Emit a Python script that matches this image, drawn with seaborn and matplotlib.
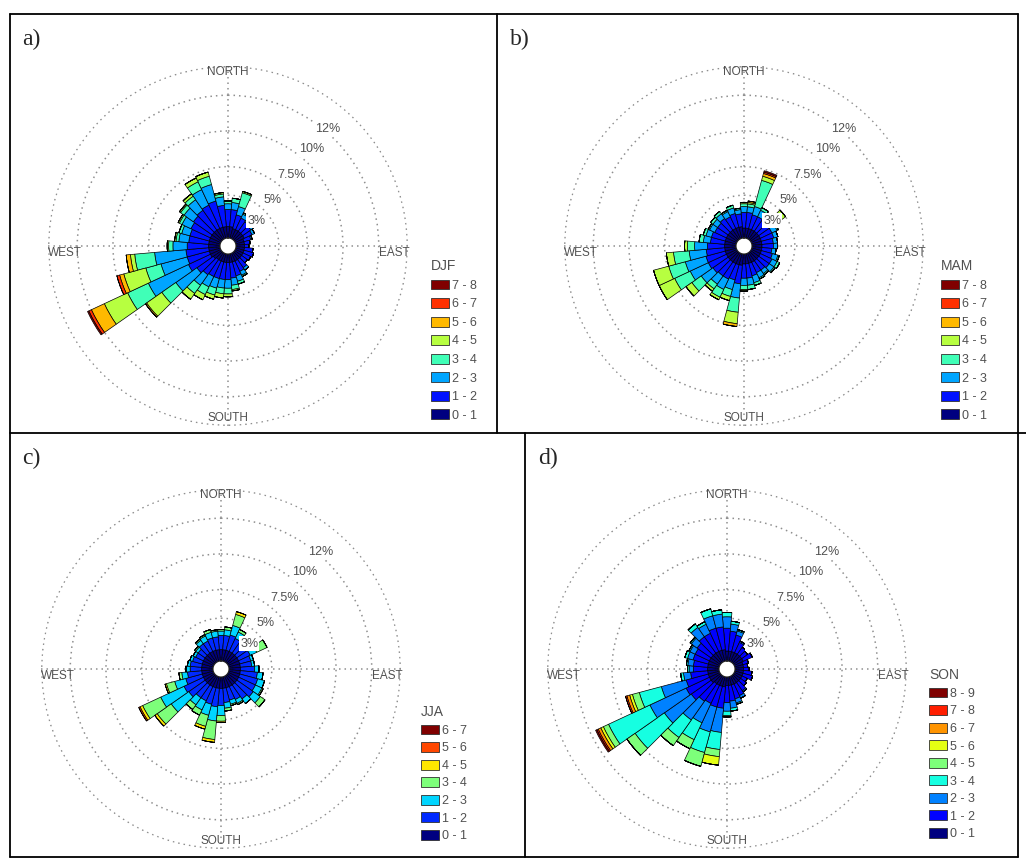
import numpy as np
import matplotlib
matplotlib.use("Agg")
import matplotlib.pyplot as plt
from matplotlib.patches import Patch
from matplotlib.lines import Line2D
import seaborn as sns

# wind directions (degrees from north, clockwise) and ring values (%)
directions = np.arange(0, 360, 10)
ring_values = [3, 5, 7.5, 10, 12]

# frequency (%) per direction, one column per speed class (m/s)
djf_classes = ["0 - 1", "1 - 2", "2 - 3", "3 - 4", "4 - 5", "5 - 6", "6 - 7", "7 - 8"]
djf = [
    [0.8, 1.2, 0.4, 0.2], [0.8, 1.2, 0.5, 0.3], [0.7, 1.0, 0.6, 1.0, 0.1], [0.7, 0.9, 0.3, 0.1],
    [0.7, 0.8, 0.3], [0.7, 0.7, 0.2], [0.7, 0.6, 0.2], [0.6, 0.5, 0.1],
    [0.6, 0.4], [0.6, 0.3], [0.6, 0.6], [0.6, 0.7],
    [0.6, 0.6], [0.6, 0.5], [0.6, 0.7, 0.2], [0.6, 0.8, 0.3, 0.1],
    [0.6, 1.0, 0.4, 0.2], [0.6, 1.1, 0.5, 0.3, 0.1], [0.6, 1.2, 0.6, 0.4, 0.2], [0.6, 1.2, 0.6, 0.4, 0.3],
    [0.6, 1.2, 0.7, 0.5, 0.3], [0.6, 1.2, 0.8, 0.6, 0.4], [0.6, 1.3, 0.9, 0.7, 0.5], [0.7, 1.4, 1.8, 1.2, 1.3, 0.1],
    [0.8, 1.7, 3.1, 1.6, 1.8, 1.0, 0.2, 0.1], [0.8, 1.6, 1.9, 1.1, 1.6, 0.3, 0.2], [0.8, 1.6, 2.2, 1.4, 0.3, 0.3], [0.8, 1.5, 1.0, 0.3, 0.1],
    [0.8, 1.4, 0.7, 0.2, 0.1], [0.8, 1.4, 0.6, 0.2], [0.8, 1.5, 0.7, 0.2, 0.1], [0.8, 1.6, 0.8, 0.3, 0.1],
    [0.8, 1.7, 0.9, 0.3, 0.2], [0.8, 1.8, 1.2, 0.6, 0.3], [0.8, 1.9, 1.2, 0.6, 0.3], [0.8, 1.5, 0.6, 0.2, 0.1],
]

mam_classes = ["0 - 1", "1 - 2", "2 - 3", "3 - 4", "4 - 5", "5 - 6", "6 - 7", "7 - 8"]
mam = [
    [0.7, 1.1, 0.4, 0.2, 0.1], [0.7, 1.1, 0.4, 0.2, 0.1, 0.1], [0.7, 1.0, 0.6, 1.9, 0.3, 0.2, 0.1, 0.1], [0.7, 1.0, 0.5, 0.2],
    [0.7, 1.0, 0.4, 0.2], [0.7, 1.0, 0.5, 0.4, 0.4], [0.7, 0.9, 0.4, 0.1], [0.7, 0.9, 0.3],
    [0.7, 0.8, 0.3], [0.7, 0.8, 0.3], [0.7, 0.7, 0.3], [0.7, 0.8, 0.4, 0.1],
    [0.7, 0.9, 0.4, 0.2], [0.7, 0.9, 0.4, 0.1], [0.7, 0.8, 0.3, 0.1], [0.7, 0.8, 0.4, 0.1],
    [0.7, 0.9, 0.5, 0.2], [0.7, 1.0, 0.5, 0.3], [0.7, 1.0, 0.5, 0.3, 0.1], [0.8, 1.3, 1.0, 1.0, 0.8, 0.2],
    [0.8, 1.1, 0.7, 0.5, 0.3], [0.8, 1.2, 0.8, 0.6, 0.2], [0.8, 1.2, 0.7, 0.4, 0.2], [0.8, 1.3, 1.0, 0.8, 0.5],
    [0.8, 1.4, 1.4, 1.2, 1.2], [0.8, 1.4, 1.5, 1.2, 1.1], [0.8, 1.3, 1.2, 1.1, 0.5], [0.8, 1.2, 0.9, 0.5, 0.2],
    [0.8, 1.0, 0.5, 0.3], [0.8, 1.0, 0.4, 0.2], [0.8, 0.9, 0.4, 0.1], [0.8, 0.9, 0.4, 0.2],
    [0.8, 1.0, 0.4, 0.2], [0.8, 0.9, 0.4, 0.1], [0.8, 1.0, 0.4, 0.2], [0.8, 0.9, 0.3, 0.1],
]

jja_classes = ["0 - 1", "1 - 2", "2 - 3", "3 - 4", "4 - 5", "5 - 6", "6 - 7"]
jja = [
    [0.8, 1.0, 0.3, 0.1], [0.8, 1.0, 0.4, 0.2], [0.8, 1.1, 0.7, 0.8, 0.2], [0.8, 1.0, 0.5, 0.2],
    [0.8, 0.9, 0.4, 0.1], [0.8, 0.9, 0.3], [0.8, 0.9, 0.5, 0.8], [0.8, 0.8, 0.2],
    [0.8, 0.8, 0.2], [0.8, 1.0, 0.3], [0.8, 1.2, 0.4], [0.8, 1.3, 0.5],
    [0.8, 1.3, 0.5, 0.1], [0.8, 1.4, 0.6, 0.4], [0.8, 1.2, 0.4], [0.8, 1.0, 0.3, 0.1],
    [0.8, 0.9, 0.3, 0.1], [0.8, 1.0, 0.4, 0.2], [0.8, 1.2, 0.7, 0.4, 0.1], [0.8, 1.3, 1.0, 1.3, 0.2],
    [0.8, 1.2, 0.8, 0.8, 0.2], [0.8, 1.1, 0.7, 0.4], [0.8, 1.1, 0.6, 0.4], [0.8, 1.4, 1.5, 1.2, 0.2],
    [0.8, 1.5, 1.8, 1.4, 0.2, 0.1], [0.8, 1.2, 0.8, 0.6, 0.1], [0.8, 1.0, 0.4, 0.2], [0.8, 0.8, 0.3],
    [0.8, 0.8, 0.2], [0.8, 0.7, 0.2], [0.8, 0.6, 0.2], [0.8, 0.6, 0.2, 0.1],
    [0.8, 0.8, 0.3, 0.1], [0.8, 0.8, 0.4, 0.1], [0.8, 0.9, 0.4, 0.2], [0.8, 0.9, 0.4, 0.1],
]

son_classes = ["0 - 1", "1 - 2", "2 - 3", "3 - 4", "4 - 5", "5 - 6", "6 - 7", "7 - 8", "8 - 9"]
son = [
    [0.7, 1.6, 0.8, 0.3], [0.7, 1.4, 0.5, 0.2], [0.7, 1.2, 0.3, 0.1], [0.7, 0.8, 0.1],
    [0.7, 0.6], [0.7, 0.5], [0.7, 0.7], [0.6, 0.4],
    [0.6, 0.3], [0.6, 0.4], [0.6, 0.6], [0.6, 0.7],
    [0.6, 0.4], [0.6, 0.5], [0.6, 0.7, 0.1], [0.6, 0.9, 0.2],
    [0.6, 1.0, 0.3, 0.1], [0.6, 1.1, 0.5, 0.2], [0.6, 1.2, 0.6, 0.3, 0.1], [0.7, 1.5, 1.7, 1.2, 0.5, 0.6],
    [0.7, 1.5, 1.8, 1.5, 1.0], [0.7, 1.4, 1.5, 1.3, 0.7], [0.7, 1.5, 1.6, 1.5, 0.7], [0.8, 1.7, 2.3, 2.5, 0.7],
    [0.8, 1.8, 2.8, 3.2, 0.4, 0.2, 0.2, 0.1, 0.1], [0.8, 1.6, 1.8, 1.6, 0.5, 0.2, 0.2, 0.1], [0.8, 1.2, 0.5, 0.2], [0.8, 1.0, 0.3, 0.1],
    [0.8, 1.0, 0.4, 0.1], [0.8, 1.1, 0.4, 0.2], [0.8, 1.1, 0.4, 0.1], [0.8, 1.2, 0.5, 0.1],
    [0.8, 1.4, 0.8, 0.3], [0.8, 1.4, 0.7, 0.2], [0.8, 1.6, 0.9, 0.5], [0.8, 1.6, 0.9, 0.3],
]

panels = [
    ("a)", "DJF", djf_classes, djf),
    ("b)", "MAM", mam_classes, mam),
    ("c)", "JJA", jja_classes, jja),
    ("d)", "SON", son_classes, son),
]

W, H = 1026, 859
sns.set_style("white")
plt.rcParams["font.family"] = ["Liberation Sans", "DejaVu Sans"]

fig = plt.figure(figsize=(W / 100, H / 100), dpi=100)

# table frame (pixel coordinates)
def hline(y, x0, x1):
    fig.add_artist(Line2D([x0 / W, x1 / W], [1 - y / H, 1 - y / H], color="black", lw=1.3))

def vline(x, y0, y1):
    fig.add_artist(Line2D([x / W, x / W], [1 - y0 / H, 1 - y1 / H], color="black", lw=1.3))

hline(14, 10, 1018)
hline(433, 10, 1026)
hline(857, 10, 1018)
vline(10, 14, 857)
vline(1018, 14, 857)
vline(497, 14, 433)
vline(525, 433, 857)

centers = [(228, 246), (744, 246), (221, 669), (727, 669)]
label_pos = [(22, 39), (510, 39), (22, 458), (538, 458)]
legend_pos = [(425, 253), (935, 253), (415, 699), (923, 662)]
R = 180
grid_kw = dict(color="#8f8f8f", linestyle=(0, (1, 2.6)), linewidth=1.1)
txt_col = "#505050"

for (tag, season, classes, rows), (cx, cy), (lx, ly), (gx, gy) in zip(panels, centers, label_pos, legend_pos):
    n = len(classes)
    vals = np.array([r + [0] * (n - len(r)) for r in rows])
    colors = sns.color_palette(plt.cm.jet(np.linspace(0, 1, n)))

    ax = fig.add_axes([(cx - R) / W, 1 - (cy + R) / H, 2 * R / W, 2 * R / H], projection="polar")
    ax.set_theta_zero_location("N")
    ax.set_theta_direction(-1)
    ax.set_rorigin(-0.56)
    ax.set_ylim(0, 12.05)
    ax.set_yticks(ring_values)
    ax.set_yticklabels([])
    ax.set_xticks(np.deg2rad([0, 90, 180, 270]))
    ax.set_xticklabels([])
    ax.yaxis.grid(True, **grid_kw)
    ax.xaxis.grid(True, **grid_kw)
    ax.spines["polar"].set_visible(False)
    ax.set_axisbelow(True)
    ax.patch.set_alpha(0)

    theta = np.deg2rad(directions)
    bottom = np.zeros(len(directions))
    handles = []
    for k in range(n):
        ax.bar(theta, vals[:, k], width=np.deg2rad(10), bottom=bottom, color=colors[k],
               edgecolor="black", linewidth=0.5, zorder=2)
        bottom += vals[:, k]
        handles.append(Patch(facecolor=colors[k], edgecolor="#303030", linewidth=0.6))

    for v in ring_values:
        ax.text(np.deg2rad(38 + 30 / v), 0.9 * v - 0.6, f"{v:g}%", ha="center", va="center",
                fontsize=9, color=txt_col, zorder=5,
                bbox=dict(facecolor="white", edgecolor="none", pad=0.8))

    ax.text(0.5, 0.983, "NORTH", transform=ax.transAxes, ha="center", va="center", fontsize=8.5, color=txt_col)
    ax.text(0.5, 0.022, "SOUTH", transform=ax.transAxes, ha="center", va="center", fontsize=8.5, color=txt_col)
    ax.text(0.0, 0.48, "WEST", transform=ax.transAxes, ha="left", va="center", fontsize=8.5, color=txt_col)
    ax.text(1.005, 0.48, "EAST", transform=ax.transAxes, ha="right", va="center", fontsize=8.5, color=txt_col)

    leg = ax.legend(handles[::-1], classes[::-1], title=season, loc="upper left",
                    bbox_to_anchor=(gx / W, 1 - gy / H), bbox_transform=fig.transFigure,
                    frameon=False, fontsize=9, title_fontsize=10, borderpad=0,
                    handlelength=1.45, handleheight=0.85, handletextpad=0.25,
                    labelspacing=0.5 if n == 8 else 0.42, alignment="left")
    for t in leg.get_texts():
        t.set_color(txt_col)
    leg.get_title().set_color(txt_col)

    fig.text(lx / W, 1 - ly / H, tag, ha="left", va="center", fontsize=17,
             family=["Liberation Serif", "DejaVu Serif"])

fig.savefig("out.png", dpi=100)
